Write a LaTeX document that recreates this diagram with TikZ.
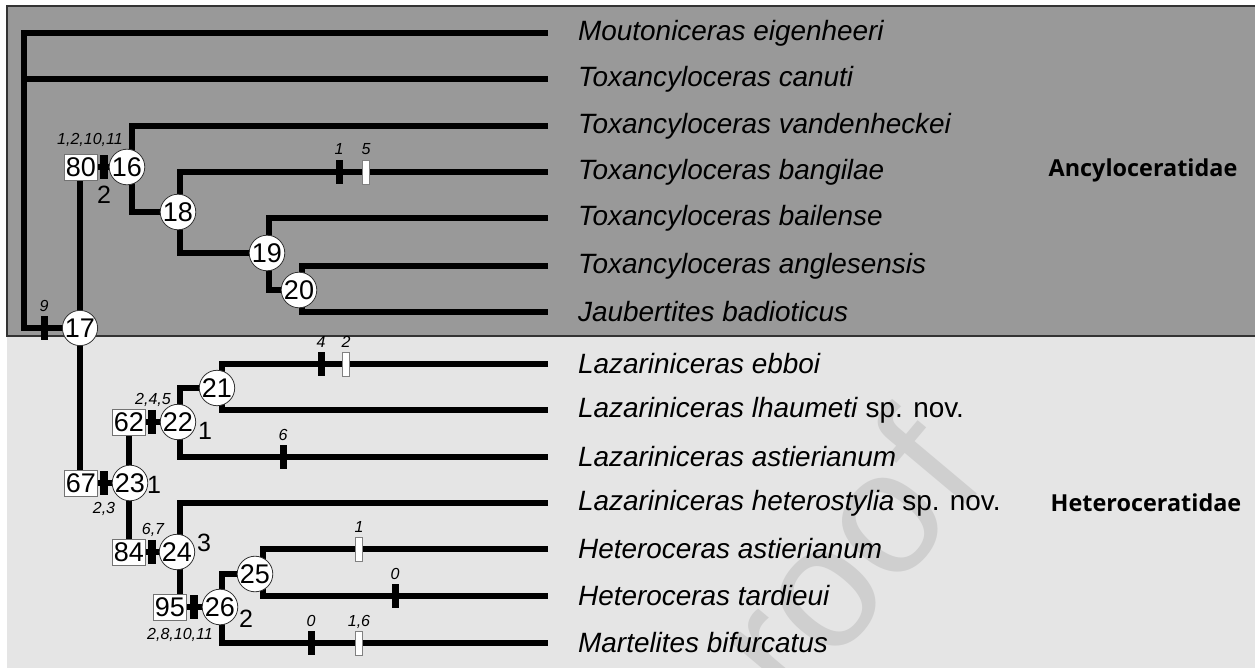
\documentclass[tikz,border=0pt]{standalone}
\usepackage{fontspec}
\setmainfont{Liberation Sans}
\newfontfamily\famfont{Open Sans}
\newcommand\myfs[1]{\fontsize{#1}{#1}\selectfont}
\definecolor{upperbg}{HTML}{999999}
\definecolor{lowerbg}{HTML}{E5E5E5}
\definecolor{wmark}{HTML}{CFCFCF}
\pgfdeclarelayer{back}
\pgfdeclarelayer{lines}
\pgfsetlayers{back,lines,main}
\begin{document}
\begin{tikzpicture}[x=1pt,y=-1pt,
  br/.style={line width=6pt,black},
  circ/.style={circle,draw=black!80,line width=0.8pt,fill=white,minimum size=32pt,inner sep=0pt,font=\myfs{27}},
  bx/.style={rectangle,draw=black!55,line width=0.8pt,fill=white,minimum width=33pt,minimum height=26pt,inner sep=0pt,font=\myfs{27}},
  bt/.style={rectangle,fill=black,minimum width=7pt,minimum height=24pt,inner sep=0pt},
  xt/.style={rectangle,fill=black,minimum width=8pt,minimum height=24pt,inner sep=0pt},
  wt/.style={rectangle,fill=white,draw=black!50,line width=0.8pt,minimum width=7pt,minimum height=24pt,inner sep=0pt},
  sp/.style={anchor=west,inner sep=0pt,font=\myfs{27.9}\itshape},
  cl/.style={anchor=base,inner sep=0pt,font=\myfs{16}\itshape},
  nl/.style={inner sep=0pt,font=\myfs{25}},
  fam/.style={inner sep=0pt,font=\famfont\bfseries\myfs{23.4}}]
\useasboundingbox (0,0) rectangle (1255,668);

% backgrounds
\begin{pgfonlayer}{back}
\fill[lowerbg] (7,336) rectangle (1255,668);
\fill[upperbg] (7,6) rectangle (1255,336);
\draw[black!80,line width=1.3pt] (1260,6) -- (7,6) -- (7,336) -- (1260,336);
\begin{scope}
\clip (7,336) rectangle (1255,668);
\node[rotate=50,text=wmark,font=\myfs{175}] (wm) at (826,604) {proof};
\end{scope}
\end{pgfonlayer}

% leaf ends and labels
\foreach \i/\y in {1/33,2/79,3/126,4/172,5/218,6/266,7/312,8/364,9/410,10/457,11/503,12/549,13/596,14/643}{
  \coordinate (e\i) at (548,\y);
}
\node[sp] (s1) at (578,33) {Moutoniceras eigenheeri};
\node[sp] (s2) at (578,79) {Toxancyloceras canuti};
\node[sp] (s3) at (578,126) {Toxancyloceras vandenheckei};
\node[sp] (s4) at (578,172) {Toxancyloceras bangilae};
\node[sp] (s5) at (578,218) {Toxancyloceras bailense};
\node[sp] (s6) at (578,266) {Toxancyloceras anglesensis};
\node[sp] (s7) at (578,312) {Jaubertites badioticus};
\node[sp] (s8) at (578,364) {Lazariniceras ebboi};
\node[sp] (s9) at (578,410) {Lazariniceras lhaumeti\/ \upshape sp. nov.};
\node[sp] (s10) at (578,457) {Lazariniceras astierianum};
\node[sp] (s11) at (578,503) {Lazariniceras heterostylia\/ \upshape sp. nov.};
\node[sp] (s12) at (578,549) {Heteroceras astierianum};
\node[sp] (s13) at (578,596) {Heteroceras tardieui};
\node[sp] (s14) at (578,643) {Martelites bifurcatus};

\node[fam] (fa) at (1143,170) {Ancyloceratidae};
\node[fam] (fh) at (1146,503) {Heteroceratidae};

% internal nodes
\node[circ] (n17) at (80,328) {17};
\node[bx] (b80) at (81,167) {80};
\node[circ] (n16) at (127,167) {16};
\node[circ] (n18) at (178,212) {18};
\node[circ] (n19) at (267,253) {19};
\node[circ] (n20) at (299,290) {20};
\node[bx] (b67) at (81,483) {67};
\node[circ] (n23) at (130,483) {23};
\node[bx] (b62) at (129,422) {62};
\node[circ] (n22) at (178,422) {22};
\node[circ] (n21) at (217,388) {21};
\node[bx] (b84) at (129,552) {84};
\node[circ] (n24) at (177,552) {24};
\node[bx] (b95) at (170,607) {95};
\node[circ] (n26) at (220,607) {26};
\node[circ] (n25) at (255,574) {25};

\coordinate (r1) at (24,33);
\coordinate (v16) at (132,126);
\coordinate (v18) at (180,172);
\coordinate (v19) at (269,218);
\coordinate (v20) at (302,266);
\coordinate (v21) at (222,364);
\coordinate (c22) at (180,457);
\coordinate (c24) at (180,503);
\coordinate (c26) at (222,643);
\coordinate (v25) at (263,549);
\coordinate (v17) at (80,167);

% branches
\begin{pgfonlayer}{lines}
\draw[br] (e1) -- (r1) |- (n17);
\draw[br] (e2) -- (r1 |- e2);
\draw[br] (v17) -- (v17 |- b67);
\draw[br] (b80) -- (n16);
\draw[br] (e3) -- (v16) |- (n18);
\draw[br] (e4) -- (v18) |- (n19);
\draw[br] (e5) -- (v19) |- (n20);
\draw[br] (e6) -- (v20) -- (v20 |- e7) -- (e7);
\draw[br] (b67) -- (n23);
\draw[br] (b62) -- (b84);
\draw[br] (b62) -- (n22);
\draw[br] (n21) -| (c22) -- (e10);
\draw[br] (e8) -- (v21) -- (v21 |- e9) -- (e9);
\draw[br] (b84) -- (n24);
\draw[br] (e11) -- (c24) -- (c24 |- b95);
\draw[br] (b95) -- (n26);
\draw[br] (n25) -| (c26) -- (e14);
\draw[br] (e12) -- (v25) -- (v25 |- e13) -- (e13);
\end{pgfonlayer}

% character ticks
\begin{pgfonlayer}{lines}
\node[bt] (t9) at (44,328) {};
\node[xt] (x80) at (104,167) {};
\node[bt] (tb1) at (339,172) {};
\node[wt] (tb5) at (366,172) {};
\node[bt] (te4) at (321,364) {};
\node[wt] (te2) at (346,364) {};
\node[bt] (ta6) at (283,457) {};
\node[xt] (x62) at (152,422) {};
\node[xt] (x67) at (104,483) {};
\node[xt] (x84) at (152,552) {};
\node[xt] (x95) at (194,607) {};
\node[wt] (th1) at (359,549) {};
\node[bt] (tt0) at (395,596) {};
\node[bt] (tm0) at (311,643) {};
\node[wt] (tm16) at (359,643) {};
\end{pgfonlayer}

% tick labels
\node[cl] (l9) at (44,311) {9};
\node[cl] (l80) at (90,145) {1,2,10,11};
\node[cl] (lb1) at (339,155) {1};
\node[cl] (lb5) at (366,155) {5};
\node[cl] (le4) at (321,347) {4};
\node[cl] (le2) at (346,347) {2};
\node[cl] (la6) at (283,440) {6};
\node[cl] (l62) at (153,404) {2,4,5};
\node[cl] (l67) at (104,513) {2,3};
\node[cl] (l84) at (153,534) {6,7};
\node[cl] (lh1) at (359,532) {1};
\node[cl] (lt0) at (395,579) {0};
\node[cl] (lm0) at (311,626) {0};
\node[cl] (lm16) at (359,626) {1,6};
\node[cl] (l95) at (180,639) {2,8,10,11};

% support numbers
\node[nl] (q80) at (104,195) {2};
\node[nl] (q22) at (205,431) {1};
\node[nl] (q23) at (154,485) {1};
\node[nl] (q24) at (204,543) {3};
\node[nl] (q26) at (246,619) {2};
\end{tikzpicture}
\end{document}
